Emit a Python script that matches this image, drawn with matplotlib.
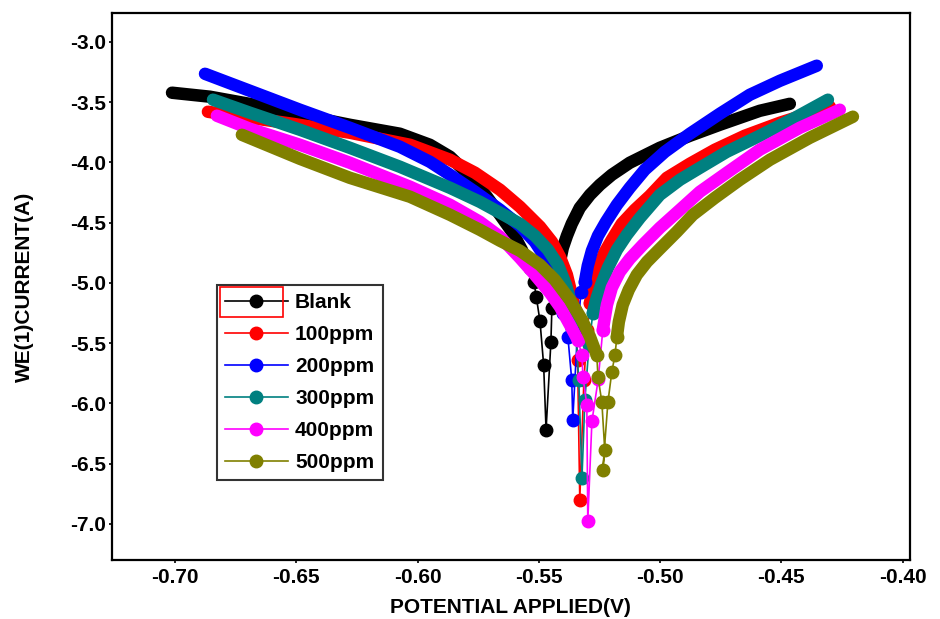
import numpy as np
import matplotlib
matplotlib.use("Agg")
import matplotlib.pyplot as plt
from matplotlib.patches import Rectangle

plt.rcParams['font.family'] = ['Liberation Sans', 'DejaVu Sans']
plt.rcParams['font.weight'] = 'bold'
plt.rcParams['axes.unicode_minus'] = False

# Tafel data: (potential V, log current A)
# each series = cathodic branch (dense), region near Ecorr (sparse), anodic branch (dense)
blank_cath = [(-0.7012, -3.423), (-0.6856, -3.456), (-0.6650, -3.531), (-0.6485, -3.606),
              (-0.6279, -3.689), (-0.6073, -3.763), (-0.5949, -3.855), (-0.5866, -3.954),
              (-0.5784, -4.112), (-0.5714, -4.286), (-0.5660, -4.436), (-0.5607, -4.585),
              (-0.5570, -4.726), (-0.5537, -4.876)]
blank_dip = [(-0.5537, -4.876), (-0.552, -4.99), (-0.551, -5.12), (-0.5495, -5.32),
             (-0.548, -5.68), (-0.547, -6.22), (-0.545, -5.49), (-0.5446, -5.21),
             (-0.5425, -4.95)]
blank_anod = [(-0.5425, -4.950), (-0.5413, -4.826), (-0.5401, -4.710), (-0.5384, -4.610),
              (-0.5364, -4.510), (-0.5331, -4.378), (-0.5289, -4.270), (-0.5248, -4.187),
              (-0.5199, -4.104), (-0.5125, -4.004), (-0.5001, -3.880), (-0.4877, -3.780),
              (-0.4754, -3.689), (-0.4589, -3.573), (-0.4465, -3.515)]

p100_cath = [(-0.6864, -3.581), (-0.6691, -3.631), (-0.6514, -3.681), (-0.6279, -3.755),
             (-0.6031, -3.855), (-0.5866, -3.979), (-0.5763, -4.087), (-0.5660, -4.228),
             (-0.5578, -4.369), (-0.5495, -4.535), (-0.5446, -4.660), (-0.5413, -4.784),
             (-0.5384, -4.934), (-0.5364, -5.100), (-0.5351, -5.224)]
p100_dip = [(-0.5351, -5.224), (-0.534, -5.64), (-0.5331, -6.80), (-0.5314, -5.81),
            (-0.530, -5.39), (-0.5289, -5.166)]
p100_anod = [(-0.5289, -5.166), (-0.5273, -5.017), (-0.5256, -4.892), (-0.5232, -4.759),
             (-0.5199, -4.643), (-0.5158, -4.510), (-0.5104, -4.394), (-0.5042, -4.278),
             (-0.4972, -4.129), (-0.4877, -4.012), (-0.4774, -3.896), (-0.4651, -3.780),
             (-0.4506, -3.672), (-0.4300, -3.539)]

p200_cath = [(-0.6876, -3.266), (-0.6691, -3.407), (-0.6485, -3.564), (-0.6279, -3.714),
             (-0.6073, -3.871), (-0.5949, -3.996), (-0.5866, -4.104), (-0.5763, -4.245),
             (-0.5660, -4.394), (-0.5578, -4.527), (-0.5516, -4.660), (-0.5462, -4.826),
             (-0.5430, -5.000), (-0.5413, -5.141), (-0.5401, -5.249)]
p200_dip = [(-0.5401, -5.249), (-0.538, -5.45), (-0.5364, -5.81), (-0.536, -6.14),
            (-0.534, -5.39), (-0.5326, -5.08), (-0.531, -4.99)]
p200_anod = [(-0.5310, -4.992), (-0.5298, -4.859), (-0.5281, -4.734), (-0.5256, -4.610),
             (-0.5223, -4.494), (-0.5178, -4.353), (-0.5125, -4.212), (-0.5063, -4.062),
             (-0.4980, -3.913), (-0.4877, -3.763), (-0.4754, -3.598), (-0.4630, -3.440),
             (-0.4506, -3.324), (-0.4354, -3.199)]

p300_cath = [(-0.6843, -3.481), (-0.6691, -3.589), (-0.6485, -3.730), (-0.6279, -3.880),
             (-0.6073, -4.037), (-0.5866, -4.212), (-0.5743, -4.328), (-0.5660, -4.419),
             (-0.5578, -4.510), (-0.5516, -4.610), (-0.5462, -4.726), (-0.5421, -4.851),
             (-0.5388, -5.017), (-0.5368, -5.166), (-0.5351, -5.307)]
p300_dip = [(-0.5351, -5.307), (-0.5335, -5.81), (-0.5322, -6.62), (-0.531, -5.97),
            (-0.5293, -5.52), (-0.5277, -5.249)]
p300_anod = [(-0.5277, -5.249), (-0.5261, -5.124), (-0.5240, -5.000), (-0.5215, -4.876),
             (-0.5178, -4.726), (-0.5137, -4.602), (-0.5083, -4.461), (-0.5001, -4.270),
             (-0.4918, -4.145), (-0.4836, -4.046), (-0.4725, -3.913), (-0.4589, -3.780),
             (-0.4444, -3.631), (-0.4308, -3.481)]

p400_cath = [(-0.6827, -3.614), (-0.6691, -3.722), (-0.6485, -3.855), (-0.6279, -4.004),
             (-0.6031, -4.203), (-0.5866, -4.353), (-0.5743, -4.494), (-0.5660, -4.618),
             (-0.5578, -4.793), (-0.5516, -4.934), (-0.5454, -5.083), (-0.5413, -5.199),
             (-0.5372, -5.349), (-0.5339, -5.473)]
p400_dip = [(-0.5339, -5.473), (-0.5322, -5.60), (-0.5318, -5.78), (-0.5302, -6.01),
            (-0.5298, -6.98), (-0.5281, -6.15), (-0.5255, -5.80), (-0.5236, -5.39)]
p400_anod = [(-0.5236, -5.390), (-0.5219, -5.183), (-0.5199, -5.041), (-0.5166, -4.909),
             (-0.5125, -4.801), (-0.5071, -4.685), (-0.5001, -4.544), (-0.4918, -4.394),
             (-0.4836, -4.245), (-0.4725, -4.087), (-0.4589, -3.896), (-0.4424, -3.714),
             (-0.4259, -3.564)]

p500_cath = [(-0.6724, -3.772), (-0.6485, -3.971), (-0.6279, -4.129), (-0.6031, -4.286),
             (-0.5866, -4.436), (-0.5743, -4.560), (-0.5660, -4.651), (-0.5578, -4.734),
             (-0.5495, -4.851), (-0.5434, -4.975), (-0.5372, -5.141), (-0.5322, -5.307),
             (-0.5289, -5.448), (-0.5261, -5.598)]
p500_dip = [(-0.5261, -5.598), (-0.5256, -5.78), (-0.524, -5.99), (-0.5228, -6.39),
            (-0.5236, -6.55), (-0.5215, -5.99), (-0.5199, -5.74), (-0.5186, -5.60),
            (-0.5178, -5.448)]
p500_anod = [(-0.5178, -5.448), (-0.5170, -5.324), (-0.5154, -5.183), (-0.5129, -5.058),
             (-0.5096, -4.934), (-0.5054, -4.826), (-0.5001, -4.718), (-0.4931, -4.577),
             (-0.4865, -4.436), (-0.4774, -4.295), (-0.4671, -4.145), (-0.4547, -3.979),
             (-0.4383, -3.797), (-0.4205, -3.622)]

labels = ['Blank', '100ppm', '200ppm', '300ppm', '400ppm', '500ppm']
colors = ['#000000', '#ff0000', '#0000ff', '#008080', '#ff00ff', '#808000']
cathodic = [blank_cath, p100_cath, p200_cath, p300_cath, p400_cath, p500_cath]
near_ecorr = [blank_dip, p100_dip, p200_dip, p300_dip, p400_dip, p500_dip]
anodic = [blank_anod, p100_anod, p200_anod, p300_anod, p400_anod, p500_anod]

fig = plt.figure(figsize=(9.4, 6.19), dpi=100)
ax = fig.add_axes([0.119, 0.0953, 0.849, 0.884])

handles = []
for lab, col, cat, dip, ano in zip(labels, colors, cathodic, near_ecorr, anodic):
    for branch in (cat, ano):
        b = np.array(branch)
        ax.plot(b[:, 0], b[:, 1], color=col, lw=9, solid_capstyle='round',
                solid_joinstyle='round')
    d = np.array(dip)
    h, = ax.plot(d[:, 0], d[:, 1], color=col, lw=1.2, marker='o', ms=9, label=lab)
    handles.append(h)

ax.set_xlim(-0.726, -0.397)
ax.set_ylim(-7.30, -2.76)
xt = np.arange(-0.70, -0.399, 0.05)
yt = np.arange(-7.0, -2.99, 0.5)
ax.set_xticks(xt)
ax.set_xticklabels(['%.2f' % v for v in xt])
ax.set_yticks(yt)
ax.set_yticklabels(['%.1f' % v for v in yt])
ax.tick_params(axis='both', length=2, width=1.2, labelsize=15)
ax.tick_params(axis='x', pad=4)
ax.tick_params(axis='y', pad=2)
for s in ax.spines.values():
    s.set_linewidth(1.6)

ax.set_xlabel('POTENTIAL APPLIED(V)', fontsize=15, fontweight='bold')
ax.set_ylabel('WE(1)CURRENT(A)', fontsize=15, fontweight='bold')
ax.xaxis.set_label_coords(0.5, -0.069)
ax.yaxis.set_label_coords(-0.097, 0.5)

leg = ax.legend(handles=handles, loc='upper left', bbox_to_anchor=(0.1316, 0.5027),
                borderaxespad=0, frameon=True, fancybox=False, edgecolor='black',
                prop={'size': 15, 'weight': 'bold'}, handlelength=3.0,
                handletextpad=0.35, labelspacing=0.62, borderpad=0.4, numpoints=1)
leg.get_frame().set_linewidth(1.5)
ax.add_patch(Rectangle((0.1353, 0.444), 0.079, 0.0548, transform=ax.transAxes,
                       fill=False, edgecolor='red', lw=1.2, zorder=10))

fig.savefig('out.png', dpi=100)
